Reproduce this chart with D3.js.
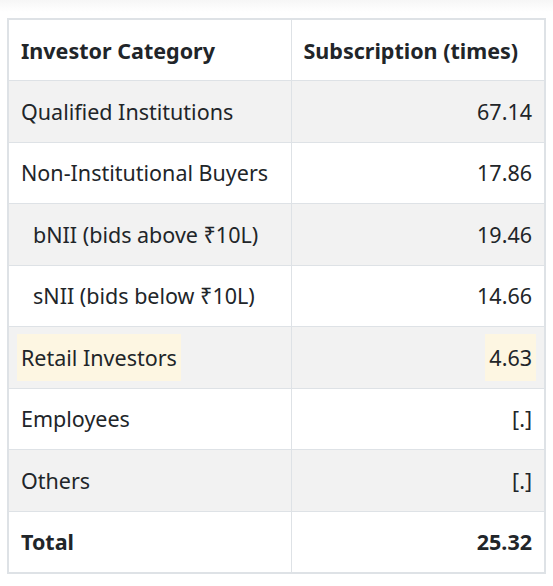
<!DOCTYPE html>
<html><head><meta charset="utf-8">
<script src="https://cdn.jsdelivr.net/npm/d3@7"></script>
<style>
body{margin:0;background:#fff;font-family:"Noto Sans","Open Sans",sans-serif;color:#212529;}
.top{height:12px;background:linear-gradient(#f6f6f6,#fff);}
table{position:absolute;left:7px;top:18px;border-collapse:collapse;width:537px;table-layout:fixed;border:2px solid #dee2e6;}
td,th{border:1px solid #dee2e6;height:61.5px;padding:0 12px;font-size:21.5px;box-sizing:border-box;}
th{font-weight:700;text-align:left;}
tr.odd td{background:#f2f2f2;}
td.val{text-align:right;}
td.ind{padding-left:24px;}
.hl{background:#fdf6e2;padding:9px 4px;margin-left:-4px;margin-right:-4px;}
tr.total td{font-weight:700;}
</style></head><body>
<div class="top"></div>
<script>
const headers = ["Investor Category", "Subscription (times)"];
const categories = ["Qualified Institutions","Non-Institutional Buyers","bNII (bids above ₹10L)","sNII (bids below ₹10L)","Retail Investors","Employees","Others","Total"];
const values = ["67.14","17.86","19.46","14.66","4.63","[.]","[.]","25.32"];
const indented = [false,false,true,true,false,false,false,false];
const highlighted = [false,false,false,false,true,false,false,false];

const table = d3.select("body").append("table");
const cg = table.append("colgroup");
cg.append("col").style("width","283px");
cg.append("col").style("width","254px");
const hr = table.append("tr");
hr.append("th").text(headers[0]);
hr.append("th").text(headers[1]);

const rows = table.selectAll("tr.row").data(categories).join("tr")
  .attr("class",(d,i)=>"row"+(i%2===0?" odd":"")+(d==="Total"?" total":""));
rows.append("td").attr("class",(d,i)=>indented[i]?"ind":null)
  .each(function(d,i){
    const s=d3.select(this).append("span").text(d);
    if(highlighted[i]) s.attr("class","hl");
  });
rows.append("td").attr("class","val")
  .each(function(d,i){
    const s=d3.select(this).append("span").text(values[i]);
    if(highlighted[i]) s.attr("class","hl");
  });
</script>
</body></html>
